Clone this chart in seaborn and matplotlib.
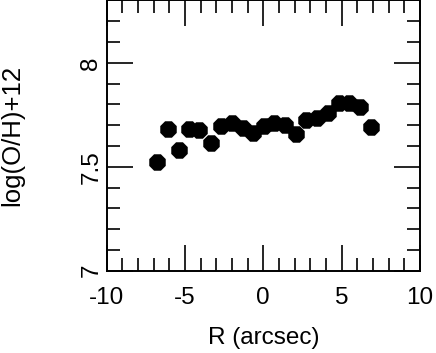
import pandas as pd
import matplotlib
matplotlib.use("Agg")
import matplotlib.pyplot as plt
from matplotlib.ticker import MultipleLocator
import seaborn as sns

# radial position (arcsec) and oxygen abundance
r_arcsec = [-6.75, -6.09, -5.39, -4.73, -4.07, -3.34, -2.70, -2.00, -1.32, -0.64, 0.02,
            0.70, 1.41, 2.09, 2.75, 3.43, 4.13, 4.84, 5.48, 6.18, 6.88]
oh = [7.521, 7.680, 7.582, 7.683, 7.676, 7.615, 7.697, 7.713, 7.685, 7.664, 7.696,
      7.712, 7.700, 7.660, 7.725, 7.737, 7.760, 7.805, 7.808, 7.786, 7.692]

x_ticks = [-10, -5, 0, 5, 10]
y_ticks = [7, 7.5, 8]
y_tick_labels = ["7", "7.5", "8"]

sns.set_style("ticks")
plt.rcParams['font.family'] = ['Liberation Sans', 'DejaVu Sans']
plt.rcParams['text.color'] = 'black'
plt.rcParams['axes.labelcolor'] = 'black'
plt.rcParams['xtick.color'] = 'black'
plt.rcParams['ytick.color'] = 'black'

df = pd.DataFrame({"R": r_arcsec, "OH": oh})

fig = plt.figure(figsize=(4.36, 3.53), dpi=100)
ax = fig.add_axes([0.2443, 0.2331, 0.7190, 0.7655])

sns.scatterplot(data=df, x="R", y="OH", ax=ax, color="black", marker="8",
                s=165, linewidth=0, zorder=3)

ax.set_xlim(-10, 10)
ax.set_ylim(7, 8.3)
ax.set_xticks(x_ticks)
ax.set_xticklabels([str(t) for t in x_ticks])
ax.set_yticks(y_ticks)
ax.set_yticklabels(y_tick_labels, rotation=90, va="center")
ax.xaxis.set_minor_locator(MultipleLocator(1))
ax.yaxis.set_minor_locator(MultipleLocator(0.1))

ax.tick_params(which="both", direction="in", top=True, right=True, width=1.2,
               color="black", labelcolor="black")
ax.tick_params(which="major", length=19, labelsize=17.5)
ax.tick_params(axis="x", which="major", pad=12)
ax.tick_params(axis="y", which="major", pad=3)
ax.tick_params(which="minor", length=9.7)
for s in ax.spines.values():
    s.set_linewidth(1.4)
    s.set_color("black")

ax.set_xlabel("R (arcsec)", fontsize=17.5, labelpad=13, color="black")
ax.set_ylabel("log(O/H)+12", fontsize=18.5, color="black")
ax.yaxis.set_label_coords(-0.262, 0.5)

fig.savefig("out.png", dpi=100)
